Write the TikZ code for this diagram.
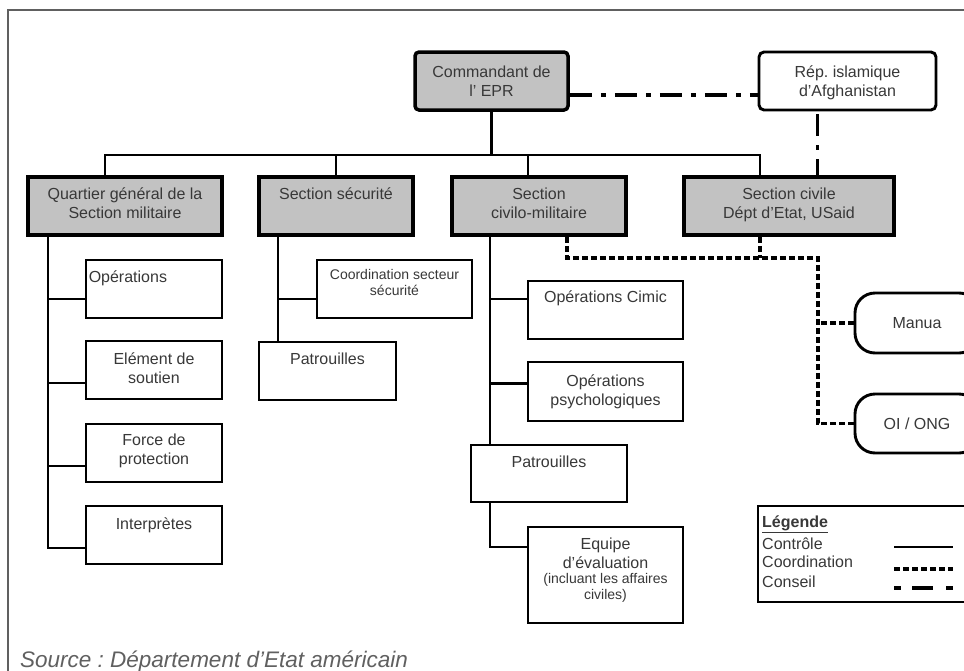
\documentclass[tikz,border=0pt]{standalone}
\usepackage{fontspec}
\setmainfont{Liberation Sans}
\definecolor{boxgray}{HTML}{C2C2C2}
\definecolor{txtgray}{HTML}{383838}
\definecolor{framegray}{HTML}{606060}
\frenchspacing
\begin{document}
\begin{tikzpicture}[x=1pt,y=-1pt,
  ctrl/.style={line width=2.8pt, black},
  coordl/.style={line width=3.4pt, black, dash pattern=on 6pt off 3pt},
  conseil/.style={line width=3.4pt, black, dash pattern=on 22pt off 9pt on 5pt off 9pt},
  gbox/.style={draw, line width=3.5pt, fill=boxgray, inner sep=0pt},
  wbox/.style={draw, line width=2.9pt, fill=white, inner sep=0pt},
  tx/.style={font=\fontsize{16}{19}\selectfont, text=txtgray, align=center, anchor=north, inner sep=0pt},
  stx/.style={font=\fontsize{14}{16}\selectfont, text=txtgray, align=center, anchor=north, inner sep=0pt},
  lt/.style={font=\fontsize{16}{19}\selectfont, text=txtgray, anchor=west, inner sep=0pt},
]
\useasboundingbox (0,0) rectangle (964,670);
\clip (0,0) rectangle (964,670);
\fill[white] (0,0) rectangle (964,670);
\draw[framegray, line width=2pt] (8,10) rectangle (1010,720);

% top level
\node[gbox, rounded corners=4pt, minimum width=153pt, minimum height=58pt] (cmd) at (491.5,81) {};
\node[tx] (cmdT) at ([yshift=-15pt]cmd.north) {Commandant de\\l' EPR};
\node[wbox, rounded corners=5pt, minimum width=177pt, minimum height=58pt] (rep) at (847.5,81) {};
\node[tx] (repT) at ([yshift=-15pt]rep.north) {Rép. islamique\\d'Afghanistan};

% sections
\node[gbox, minimum width=194pt, minimum height=58pt] (qg) at (125,206) {};
\node[tx] (qgT) at ([yshift=-12.5pt]qg.north) {Quartier général de la\\Section militaire};
\node[gbox, minimum width=154pt, minimum height=58pt] (sec) at (336,206) {};
\node[tx] (secT) at ([yshift=-12.5pt]sec.north) {Section sécurité};
\node[gbox, minimum width=174pt, minimum height=58pt] (cm) at (539,206) {};
\node[tx] (cmT) at ([yshift=-12.5pt]cm.north) {Section\\civilo-militaire};
\node[gbox, minimum width=210pt, minimum height=58pt] (civ) at (789,206) {};
\node[tx] (civT) at ([yshift=-12.5pt]civ.north) {Section civile\\Dépt d'Etat, USaid};

% military column
\node[wbox, minimum width=136pt, minimum height=58pt] (ops) at (154,289) {};
\node[tx, anchor=north west] (opsT) at ([xshift=4pt,yshift=-11.5pt]ops.north west) {Opérations};
\node[wbox, minimum width=136pt, minimum height=58pt] (els) at (154,370) {};
\node[tx] (elsT) at ([yshift=-12.5pt]els.north) {Elément de\\soutien};
\node[wbox, minimum width=136pt, minimum height=58pt] (fdp) at (154,453) {};
\node[tx] (fdpT) at ([yshift=-11.5pt]fdp.north) {Force de\\protection};
\node[wbox, minimum width=136pt, minimum height=58pt] (int) at (154,535) {};
\node[tx] (intT) at ([yshift=-12.5pt]int.north) {Interprètes};

% security column
\node[wbox, minimum width=155pt, minimum height=58pt] (css) at (394.5,289) {};
\node[stx] (cssT) at ([yshift=-11pt]css.north) {Coordination secteur\\sécurité};
\node[wbox, minimum width=137pt, minimum height=58pt] (pat1) at (327.5,371) {};
\node[tx] (pat1T) at ([yshift=-12pt]pat1.north) {Patrouilles};

% civil-military column
\node[wbox, minimum width=155pt, minimum height=58pt] (cim) at (605.5,310) {};
\node[tx] (cimT) at ([yshift=-10.5pt]cim.north) {Opérations Cimic};
\node[wbox, minimum width=155pt, minimum height=59pt] (psy) at (605.5,391.5) {};
\node[tx] (psyT) at ([yshift=-13.5pt]psy.north) {Opérations\\psychologiques};
\node[wbox, minimum width=156pt, minimum height=57pt] (pat2) at (549,473.5) {};
\node[tx] (pat2T) at ([yshift=-12pt]pat2.north) {Patrouilles};
\node[wbox, minimum width=155pt, minimum height=96pt] (eqp) at (605.5,575) {};
\node[tx] (eqpT) at ([yshift=-12.5pt]eqp.north) {Equipe\\d'évaluation};
\node[stx] (eqpS) at ([yshift=-4pt]eqpT.south) {(incluant les affaires\\civiles)};

% partners
\node[wbox, rounded corners=20pt, minimum width=124pt, minimum height=60pt,
      font=\fontsize{16}{19}\selectfont, text=txtgray] (manua) at (917,323) {Manua};
\node[wbox, rounded corners=20pt, minimum width=124pt, minimum height=59pt,
      font=\fontsize{16}{19}\selectfont, text=txtgray] (oi) at (917,423.5) {OI / ONG};

% control lines
\coordinate (bus) at (491.5,155);
\coordinate (qgTop) at ([xshift=-20pt]qg.north);
\coordinate (cmTop) at ([xshift=-11pt]cm.north);
\coordinate (civTop) at ([xshift=-29pt]civ.north);
\draw[ctrl] (cmd.south) -- (bus);
\draw[ctrl] (qgTop) |- (bus) -| (civTop);
\draw[ctrl] (sec.north) -- (sec.north |- bus);
\draw[ctrl] (cmTop) -- (cmTop |- bus);

\coordinate (qgv) at ([xshift=-77pt]qg.south);
\coordinate (opsJ) at ([yshift=-10pt]ops.west);
\coordinate (elsJ) at ([yshift=-13pt]els.west);
\coordinate (fdpJ) at ([yshift=-13pt]fdp.west);
\coordinate (intJ) at ([yshift=-13pt]int.west);
\draw[ctrl] (qgv) |- (intJ);
\draw[ctrl] (opsJ) -- (opsJ -| qgv);
\draw[ctrl] (elsJ) -- (elsJ -| qgv);
\draw[ctrl] (fdpJ) -- (fdpJ -| qgv);

\coordinate (secv) at ([xshift=-58pt]sec.south);
\coordinate (cssJ) at ([yshift=-10pt]css.west);
\draw[ctrl] (secv) -- (secv |- pat1.north);
\draw[ctrl] (cssJ) -- (cssJ -| secv);

\coordinate (cmv) at ([xshift=-49pt]cm.south);
\coordinate (cimJ) at ([yshift=11pt]cim.west);
\coordinate (psyJ) at ([yshift=8pt]psy.west);
\coordinate (eqpJ) at ([yshift=28pt]eqp.west);
\draw[ctrl] (cmv) -- (cmv |- pat2.north);
\draw[ctrl] (cimJ) -- (cimJ -| cmv);
\draw[ctrl] (psyJ) -- (psyJ -| cmv);
\draw[ctrl] (cmv |- pat2.south) |- (eqpJ);

% coordination lines
\coordinate (dj) at (818,258);
\coordinate (cmDot) at ([xshift=28pt]cm.south);
\coordinate (civDot) at ([xshift=-29pt]civ.south);
\draw[coordl] (cmDot) |- (dj) |- (oi.west);
\draw[coordl] (civDot) -- (civDot |- dj);
\draw[coordl] (manua.west) -- (manua.west -| dj);

% advice lines
\coordinate (cmdC) at ([yshift=-14pt]cmd.east);
\coordinate (repC) at ([yshift=-14pt]rep.west);
\draw[conseil] (cmdC) -- (repC);
\coordinate (repB) at ([xshift=-30pt]rep.south);
\draw[conseil, dash phase=-3pt] (repB) -- (repB |- civ.north);

% legend
\node[wbox, minimum width=260pt, minimum height=96pt] (leg) at (888,554) {};
\node[lt] (legT) at (762,524) {\textbf{\underline{Légende}}};
\node[lt] (legA) at (762,544) {Contrôle};
\node[lt] (legB) at (762,562) {Coordination};
\node[lt] (legC) at (762,582) {Conseil};
\coordinate (la1) at (894,547); \coordinate (la2) at (953,547);
\coordinate (lb1) at (894,569); \coordinate (lb2) at (953,569);
\coordinate (lc1) at (894,588); \coordinate (lc2) at (953,588);
\draw[ctrl] (la1) -- (la2);
\draw[coordl] (lb1) -- (lb2);
\draw[line width=3.4pt, dash pattern=on 7pt off 11pt on 21pt off 13pt on 7pt off 20pt] (lc1) -- (lc2);

% source
\node[anchor=base west, inner sep=0pt, font=\fontsize{22.5}{26}\selectfont\itshape, text=framegray] (src) at (20,667) {Source : Département d'Etat américain};
\end{tikzpicture}
\end{document}
